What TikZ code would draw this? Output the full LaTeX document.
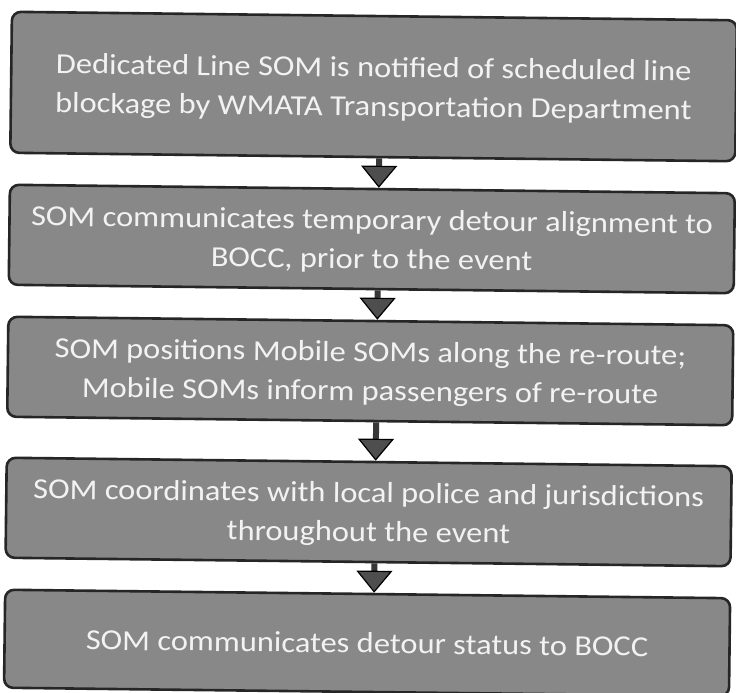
\documentclass[tikz,border=0pt]{standalone}
\usepackage{fontspec}
\setmainfont{Carlito}[FakeStretch=1.12]
\usetikzlibrary{arrows.meta}
\definecolor{boxfill}{RGB}{136,136,136}
\definecolor{boxline}{RGB}{38,38,38}
\definecolor{shaftgray}{RGB}{55,55,55}
\definecolor{headgray}{RGB}{78,78,78}
\definecolor{labelwhite}{RGB}{242,242,242}
\begin{document}
\begin{tikzpicture}[x=1pt,y=-1pt,
  stepbox/.style={draw=boxline, line width=2.6pt, fill=boxfill,
    rounded corners=9pt, minimum width=725pt, inner sep=0pt,
    text=labelwhite, align=center, text depth=0pt,
    font=\fontsize{29}{39}\selectfont},
  twoline/.style={text depth=-6pt},
  flow/.style={draw=shaftgray, line width=6pt,
    -{Triangle[width=36pt,length=22pt,line width=1.2pt,
      fill=headgray,color=black]}}]
  \useasboundingbox (0,0) rectangle (736,693);
  \fill[white] (0,0) rectangle (736,693);
  \begin{scope}[rotate around={-0.67:(370.5,350)}, transform shape]
    \node[stepbox, twoline, minimum height=141pt] (b1) at (370.5,86.5)
      {Dedicated Line SOM is notified of scheduled line\\
       blockage by WMATA Transportation Department};
    \node[stepbox, twoline, minimum height=100pt] (b2) at (370.5,239)
      {SOM communicates temporary detour alignment to\\
       BOCC, prior to the event};
    \node[stepbox, twoline, minimum height=100pt] (b3) at (370.5,371)
      {SOM positions Mobile SOMs along the re-route;\\
       Mobile SOMs inform passengers of re-route};
    \node[stepbox, twoline, minimum height=100pt] (b4) at (370.5,512)
      {SOM coordinates with local police and jurisdictions\\
       throughout the event};
    \node[stepbox, minimum height=98pt] (b5) at (370.5,643)
      {SOM communicates detour status to BOCC};
    \foreach \a/\b in {b1/b2,b2/b3,b3/b4,b4/b5}
      \draw[flow] ([xshift=6.5pt]\a.south) -- ([xshift=6.5pt]\b.north);
  \end{scope}
\end{tikzpicture}
\end{document}
